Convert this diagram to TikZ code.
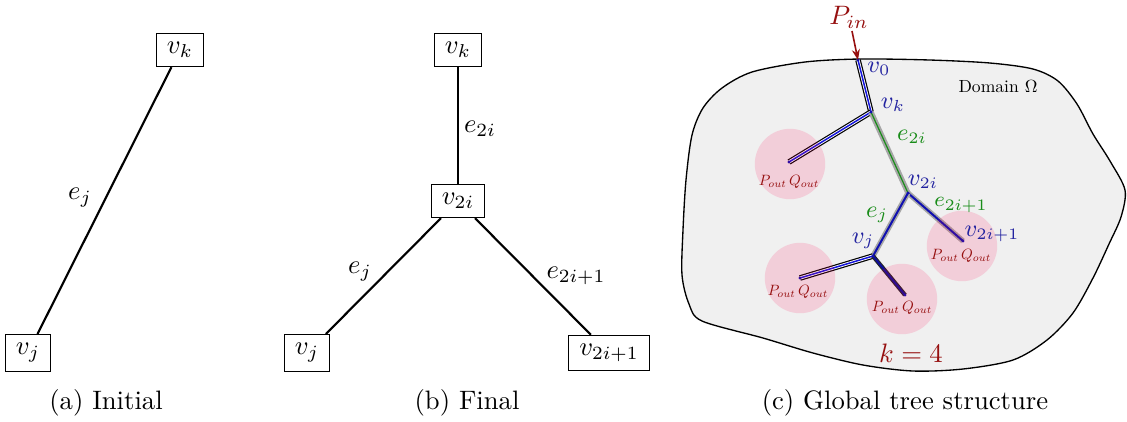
\documentclass[tikz,border=0pt]{standalone}
\usepackage{graphicx}
\usetikzlibrary{arrows.meta}
\definecolor{dred}{RGB}{150,15,15}
\definecolor{dblue}{RGB}{35,35,160}
\definecolor{dgreen}{RGB}{25,140,25}
\definecolor{domfill}{RGB}{240,240,240}
\definecolor{pinkc}{RGB}{255,0,80}
\definecolor{pipeblue}{RGB}{20,20,220}
\newcommand{\pqtext}{\scalebox{0.56}{$P_{out}\,Q_{out}$}}
\begin{document}
\begin{tikzpicture}[x=0.375pt,y=-0.375pt,
  vbox/.style={draw, line width=0.4pt, inner xsep=4pt, inner ysep=3.33pt},
  edge/.style={line width=0.8pt},
  lab/.style={inner sep=1pt},
  blab/.style={text=dblue, font=\small, inner sep=1pt},
  glab/.style={text=dgreen, font=\small, inner sep=1pt},
  pipe/.style={draw=pipeblue, line width=0.55pt,
     preaction={draw=black, line width=2.1pt},
     preaction={draw=white, line width=1.2pt}},
  graygreen/.style={draw=dgreen, line width=0.45pt,
     preaction={draw=gray!70, line width=2pt}},
  grayblue/.style={draw=pipeblue!80!black, line width=0.75pt,
     preaction={draw=gray!70, line width=2pt}},
  darkpipe/.style={draw=pipeblue!70!black, line width=0.8pt,
     preaction={draw=black!85, line width=1.6pt}},
  zone/.style={fill=pinkc, fill opacity=0.14},
  pq/.style={text=dred, inner sep=0.5pt},
  dot/.style={fill=pipeblue!80!black}
]
\useasboundingbox (0,0) rectangle (1127,421);

% ---------- (a) ----------
\node[vbox] (ak) at (180,50) {$v_k$};
\node[vbox] (aj) at (28,353) {$v_j$};
\draw[edge] (ak) -- (aj);
\node[lab] (aej) at (80,198) {$e_j$};
\node (capa) at (106,403) {(a)~Initial};

% ---------- (b) ----------
\node[vbox] (bk) at (458,50) {$v_k$};
\node[vbox] (b2i) at (458,201) {$v_{2i}$};
\node[vbox] (bj) at (307,353) {$v_j$};
\node[vbox] (b2i1) at (609,353) {$v_{2i+1}$};
\draw[edge] (bk) -- (b2i);
\draw[edge] (b2i) -- (bj);
\draw[edge] (b2i) -- (b2i1);
\node[lab] (be2i) at (480,129) {$e_{2i}$};
\node[lab] (bej) at (360,272) {$e_j$};
\node[lab] (be2i1) at (576,276) {$e_{2i+1}$};
\node (capb) at (467,403) {(b)~Final};

% ---------- (c) ----------
\draw[line width=0.5pt, fill=domfill] plot[smooth cycle, tension=0.5] coordinates {
 (702,321) (689,304) (682,275) (683,230) (686,180) (692,135) (703,108)
 (722,88) (752,72) (805,62) (860,59) (930,60) (990,63) (1033,69)
 (1058,81) (1077,104) (1093,134) (1110,161) (1125,190) (1121,217)
 (1109,244) (1093,278) (1073,313) (1047,340) (1013,360) (963,369)
 (913,371) (863,365) (813,353) (763,338)};

\coordinate (v0) at (858,60);
\coordinate (vk) at (871,112);
\coordinate (l1) at (789,162);
\coordinate (v2i) at (908,193);
\coordinate (v2i1) at (963,241);
\coordinate (vj) at (873,256);
\coordinate (l2) at (800,278);
\coordinate (l3) at (905,295);

\draw[pipe] (v0) -- (vk);
\draw[pipe] (vk) -- (l1);
\draw[graygreen] (vk) -- (v2i);
\draw[grayblue] (v2i) -- (v2i1);
\draw[grayblue] (v2i) -- (vj);
\draw[pipe] (vj) -- (l2);
\draw[darkpipe] (vj) -- (l3);

\foreach \p in {v0,vk,l1,v2i,v2i1,vj,l2,l3}
  \fill[dot] (\p) circle[radius=0.6pt];

\fill[zone] (790,164) circle[radius=13.2pt];
\fill[zone] (962,246) circle[radius=13.2pt];
\fill[zone] (800,278) circle[radius=13.2pt];
\fill[zone] (902,299) circle[radius=13.2pt];

\node[pq] (pq1) at (789,182) {\pqtext};
\node[pq] (pq2) at (961,256) {\pqtext};
\node[pq] (pq3) at (798,292) {\pqtext};
\node[pq] (pq4) at (902,308) {\pqtext};

\node[text=dred, inner sep=1pt] (pin) at (849,17) {$P_{in}$};
\coordinate (pina) at (852,31);
\draw[-{Stealth[length=4pt,width=3pt]}, dred, line width=0.6pt] (pina) -- (v0);

\node[blab] (lv0) at (879,69) {$v_0$};
\node[blab] (lvk) at (893,105) {$v_k$};
\node[glab] (le2i) at (912,137) {$e_{2i}$};
\node[blab] (lv2i) at (923,182) {$v_{2i}$};
\node[glab, font=\footnotesize] (le2i1) at (961,205) {$e_{2i+1}$};
\node[blab] (lv2i1) at (992,234) {$v_{2i+1}$};
\node[glab] (lej) at (877,215) {$e_j$};
\node[blab] (lvj) at (863,241) {$v_j$};

\node (dom) at (998,87) {\scalebox{0.66}{Domain $\Omega$}};
\node[text=dred] (k4) at (911,353) {$k=4$};

\node (capc) at (905,403) {(c)~Global tree structure};
\end{tikzpicture}
\end{document}
